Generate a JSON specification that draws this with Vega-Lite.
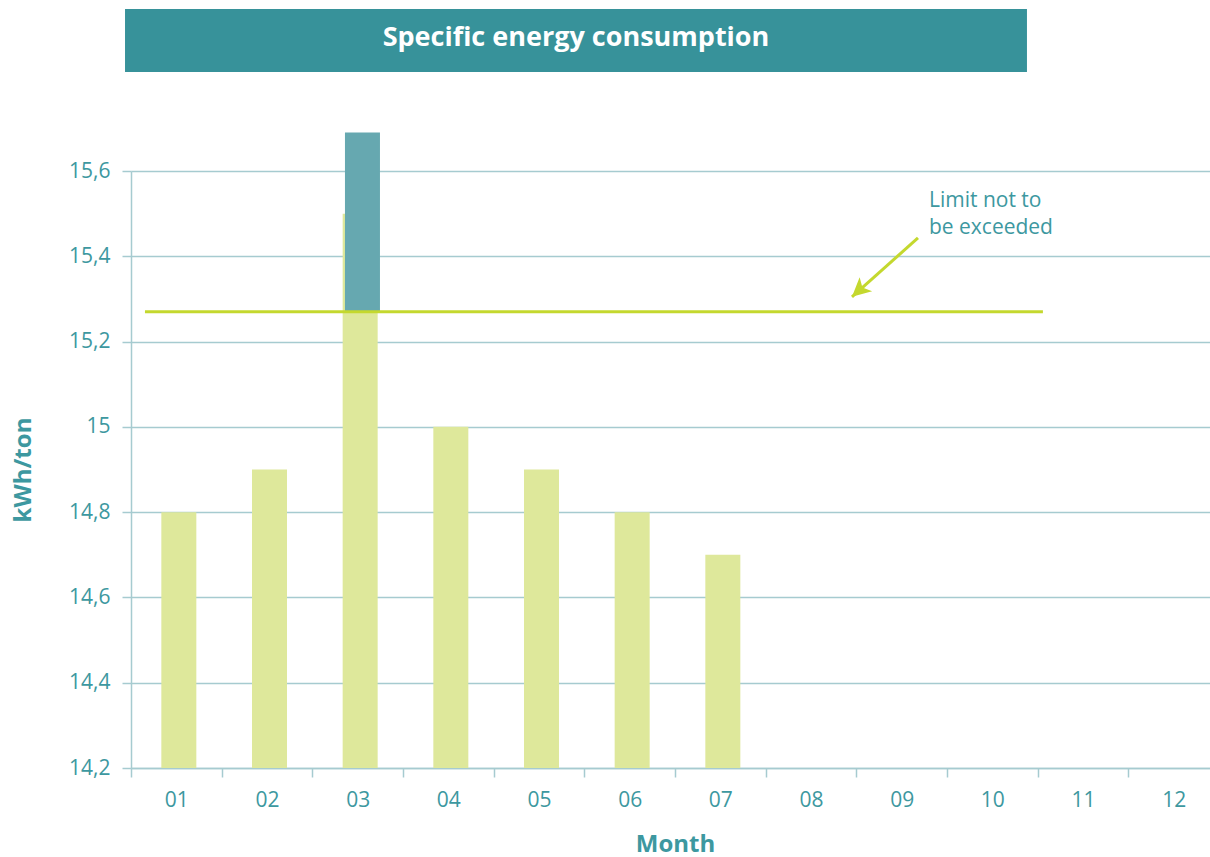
{
  "$schema": "https://vega.github.io/schema/vega-lite/v6.json",
  "width": 1088,
  "height": 597,
  "autosize": {"type": "none"},
  "padding": {"left": 131, "top": 171, "right": -9, "bottom": 89},
  "background": "white",
  "config": {"view": {"stroke": null}, "font": "Open Sans"},
  "datasets": {
    "bars": [
      {"month": "01", "value": 14.8},
      {"month": "02", "value": 14.9},
      {"month": "03", "value": 15.5},
      {"month": "04", "value": 15.0},
      {"month": "05", "value": 14.9},
      {"month": "06", "value": 14.8},
      {"month": "07", "value": 14.7}
    ],
    "excess": [{"month": "03", "low": 15.27, "high": 15.69}],
    "limit": [{"start": 0.154, "end": 10.058, "limit": 15.27}],
    "arrow": [{"x1": 8.68, "y1": 15.443, "x2": 7.952, "y2": 15.305}],
    "note": [{"x": 8.801, "y": 15.53, "text": "Limit not to\nbe exceeded"}],
    "banner": [{"x1": -0.066, "x2": 9.882, "y1": 15.832, "y2": 15.98, "label": "Specific energy consumption", "cx": 4.908, "cy": 15.912}]
  },
  "layer": [
    {
      "data": {"name": "bars"},
      "mark": {"type": "bar", "width": 35, "xOffset": 2.5, "color": "#dee89b"},
      "encoding": {
        "x": {
          "field": "month", "type": "ordinal",
          "scale": {"domain": ["01","02","03","04","05","06","07","08","09","10","11","12"], "paddingInner": 0, "paddingOuter": 0},
          "axis": {
            "title": "Month", "titleFontSize": 24, "titleFontWeight": "bold", "titleColor": "#3d98a0", "titlePadding": 22,
            "labelFontSize": 21, "labelColor": "#3d98a0", "labelAngle": 0, "labelPadding": 12,
            "tickBand": "extent", "tickSize": 9, "tickColor": "#a6cbd0", "tickWidth": 1.5,
            "domainColor": "#a6cbd0", "domainWidth": 1.5, "grid": false
          }
        },
        "y": {
          "field": "value", "type": "quantitative",
          "scale": {"domain": [14.2, 15.6], "zero": false, "nice": false},
          "axis": {
            "title": "kWh/ton", "titleFontSize": 24, "titleFontWeight": "bold", "titleColor": "#3d98a0", "titlePadding": 33,
            "values": [14.2, 14.4, 14.6, 14.8, 15.0, 15.2, 15.4, 15.6],
            "labelExpr": "datum.value == 15 ? '15' : replace(format(datum.value, '.1f'), '.', ',')",
            "labelFontSize": 21, "labelColor": "#3d98a0", "labelPadding": 12,
            "tickSize": 9, "tickColor": "#a6cbd0", "tickWidth": 1.5,
            "domainColor": "#a6cbd0", "domainWidth": 1.5,
            "grid": true, "gridColor": "#a6cbd0", "gridWidth": 1.5
          }
        },
        "y2": {"datum": 14.2}
      }
    },
    {
      "data": {"name": "excess"},
      "mark": {"type": "bar", "width": 35, "xOffset": 4.8, "color": "#66a8b0"},
      "encoding": {
        "x": {"field": "month", "type": "ordinal", "scale": {"domain": ["01","02","03","04","05","06","07","08","09","10","11","12"], "paddingInner": 0, "paddingOuter": 0}, "axis": null},
        "y": {"field": "high", "type": "quantitative", "scale": {"domain": [14.2, 15.6], "zero": false, "nice": false}},
        "y2": {"field": "low"}
      }
    },
    {
      "data": {"name": "limit"},
      "mark": {"type": "rule", "color": "#c4d82e", "strokeWidth": 3},
      "encoding": {
        "x": {"field": "start", "type": "quantitative", "scale": {"domain": [0, 12], "nice": false, "zero": false}, "axis": null},
        "x2": {"field": "end"},
        "y": {"field": "limit", "type": "quantitative", "scale": {"domain": [14.2, 15.6], "zero": false, "nice": false}}
      }
    },
    {
      "data": {"name": "arrow"},
      "mark": {"type": "rule", "color": "#c4d82e", "strokeWidth": 3},
      "encoding": {
        "x": {"field": "x1", "type": "quantitative", "scale": {"domain": [0, 12], "nice": false, "zero": false}, "axis": null},
        "x2": {"field": "x2"},
        "y": {"field": "y1", "type": "quantitative", "scale": {"domain": [14.2, 15.6], "zero": false, "nice": false}},
        "y2": {"field": "y2"}
      }
    },
    {
      "data": {"name": "arrow"},
      "mark": {"type": "point", "shape": "M0,0 L0.5,1 L0,0.75 L-0.5,1 Z", "filled": true, "opacity": 1, "color": "#c4d82e", "size": 1400, "angle": 228, "strokeWidth": 0},
      "encoding": {
        "x": {"field": "x2", "type": "quantitative", "scale": {"domain": [0, 12], "nice": false, "zero": false}, "axis": null},
        "y": {"field": "y2", "type": "quantitative", "scale": {"domain": [14.2, 15.6], "zero": false, "nice": false}}
      }
    },
    {
      "data": {"name": "note"},
      "mark": {"type": "text", "align": "left", "baseline": "middle", "lineBreak": "\n", "fontSize": 21, "lineHeight": 27, "color": "#3d98a0"},
      "encoding": {
        "x": {"field": "x", "type": "quantitative", "scale": {"domain": [0, 12], "nice": false, "zero": false}, "axis": null},
        "y": {"field": "y", "type": "quantitative", "scale": {"domain": [14.2, 15.6], "zero": false, "nice": false}},
        "text": {"field": "text"}
      }
    },
    {
      "data": {"name": "banner"},
      "mark": {"type": "rect", "color": "#37929a"},
      "encoding": {
        "x": {"field": "x1", "type": "quantitative", "scale": {"domain": [0, 12], "nice": false, "zero": false}, "axis": null},
        "x2": {"field": "x2"},
        "y": {"field": "y1", "type": "quantitative", "scale": {"domain": [14.2, 15.6], "zero": false, "nice": false}},
        "y2": {"field": "y2"}
      }
    },
    {
      "data": {"name": "banner"},
      "mark": {"type": "text", "align": "center", "baseline": "middle", "fontSize": 27, "fontWeight": "bold", "color": "white"},
      "encoding": {
        "x": {"field": "cx", "type": "quantitative", "scale": {"domain": [0, 12], "nice": false, "zero": false}, "axis": null},
        "y": {"field": "cy", "type": "quantitative", "scale": {"domain": [14.2, 15.6], "zero": false, "nice": false}},
        "text": {"field": "label"}
      }
    }
  ],
  "resolve": {"scale": {"x": "independent"}}
}
